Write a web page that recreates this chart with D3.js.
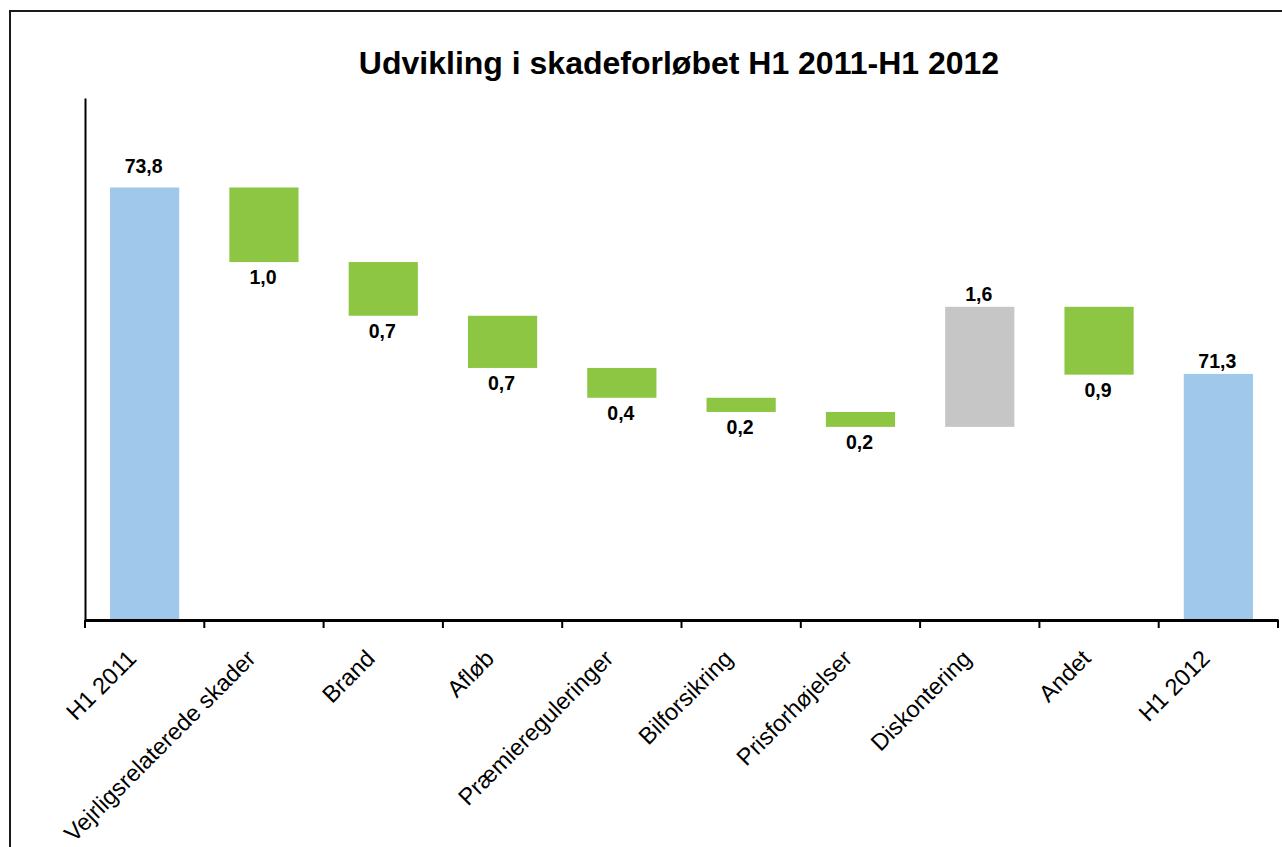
<!DOCTYPE html>
<html>
<head>
<meta charset="utf-8">
<script src="https://cdn.jsdelivr.net/npm/d3@7"></script>
<style>
  html, body { margin: 0; padding: 0; background: #fff; }
  svg { display: block; font-family: Arial, "Liberation Sans", sans-serif; }
</style>
</head>
<body>
<svg id="chart" width="1282" height="847"></svg>
<script>
const title = "Udvikling i skadeforløbet H1 2011-H1 2012";
const categories = ["H1 2011", "Vejrligsrelaterede skader", "Brand", "Afløb", "Præmiereguleringer",
                    "Bilforsikring", "Prisforhøjelser", "Diskontering", "Andet", "H1 2012"];
const values = [73.8, -1.0, -0.72, -0.70, -0.40, -0.19, -0.20, 1.61, -0.91, 71.3];
const kinds  = ["total", "change", "change", "change", "change", "change", "change", "change", "change", "total"];
const yDomain = [68, 75];

const colors = { total: "#9FC8EA", down: "#8DC643", up: "#C6C6C6" };

const svg = d3.select("#chart");
const plotBottom = 620;

// outer frame
svg.append("rect").attr("x", 10).attr("y", 11).attr("width", 1400).attr("height", 1000)
  .attr("fill", "none").attr("stroke", "#1a1a1a").attr("stroke-width", 2);

svg.append("text").attr("x", 679).attr("y", 74).attr("text-anchor", "middle")
  .attr("font-size", 32).attr("font-weight", "bold").attr("fill", "#000").text(title);

const x = d3.scaleBand().domain(categories).range([85, 1278]).padding(0);
const y = d3.scaleLinear().domain(yDomain).range([plotBottom, 98]);

// build waterfall
let running = 0;
const bars = categories.map((c, i) => {
  const v = values[i];
  if (kinds[i] === "total") {
    running = v;
    return { c, lo: yDomain[0], hi: v, type: "total", label: v, above: true };
  }
  const start = running;
  running = start + v;
  return { c, lo: Math.min(start, running), hi: Math.max(start, running),
           type: v < 0 ? "down" : "up", label: Math.abs(v), above: v > 0 };
});

const bw = x.bandwidth() * 0.58;
svg.append("g").selectAll("rect").data(bars).join("rect")
  .attr("x", d => x(d.c) + (x.bandwidth() - bw) / 2)
  .attr("width", bw)
  .attr("y", d => y(d.hi))
  .attr("height", d => y(d.lo) - y(d.hi))
  .attr("fill", d => colors[d.type]);

const fmt = v => d3.format(".1f")(v).replace(".", ",");
svg.append("g").selectAll("text").data(bars).join("text")
  .attr("x", d => x(d.c) + x.bandwidth() / 2 - 1)
  .attr("y", (d, i) => d.above ? y(d.hi) - (i === 0 ? 14 : 6) : y(d.lo) + 22)
  .attr("text-anchor", "middle")
  .attr("font-size", 19.5).attr("font-weight", "bold").attr("fill", "#000")
  .text(d => fmt(d.label));

// y axis (line only)
svg.append("g").attr("transform", "translate(85,0)")
  .call(d3.axisLeft(y).tickValues([]).tickSizeOuter(0))
  .call(g => g.select(".domain").attr("stroke", "#000").attr("stroke-width", 2));

// x axis
const xAxis = svg.append("g").attr("transform", `translate(0,${plotBottom})`)
  .call(d3.axisBottom(x).tickSize(0).tickSizeOuter(0).tickFormat(""));
xAxis.select(".domain").attr("stroke", "#000").attr("stroke-width", 3);
const bounds = categories.map(c => x(c)).concat([x.range()[1]]);
xAxis.selectAll("line.bt").data(bounds).join("line").attr("class", "bt")
  .attr("x1", d => d).attr("x2", d => d).attr("y1", 0).attr("y2", 8)
  .attr("stroke", "#000").attr("stroke-width", 2);

svg.append("g").selectAll("text").data(categories).join("text")
  .attr("transform", c => `translate(${x(c) + x.bandwidth() / 2 - 7},${plotBottom + 40}) rotate(-45)`)
  .attr("text-anchor", "end")
  .attr("font-size", 23.5).attr("fill", "#000")
  .text(c => c);
</script>
</body>
</html>
